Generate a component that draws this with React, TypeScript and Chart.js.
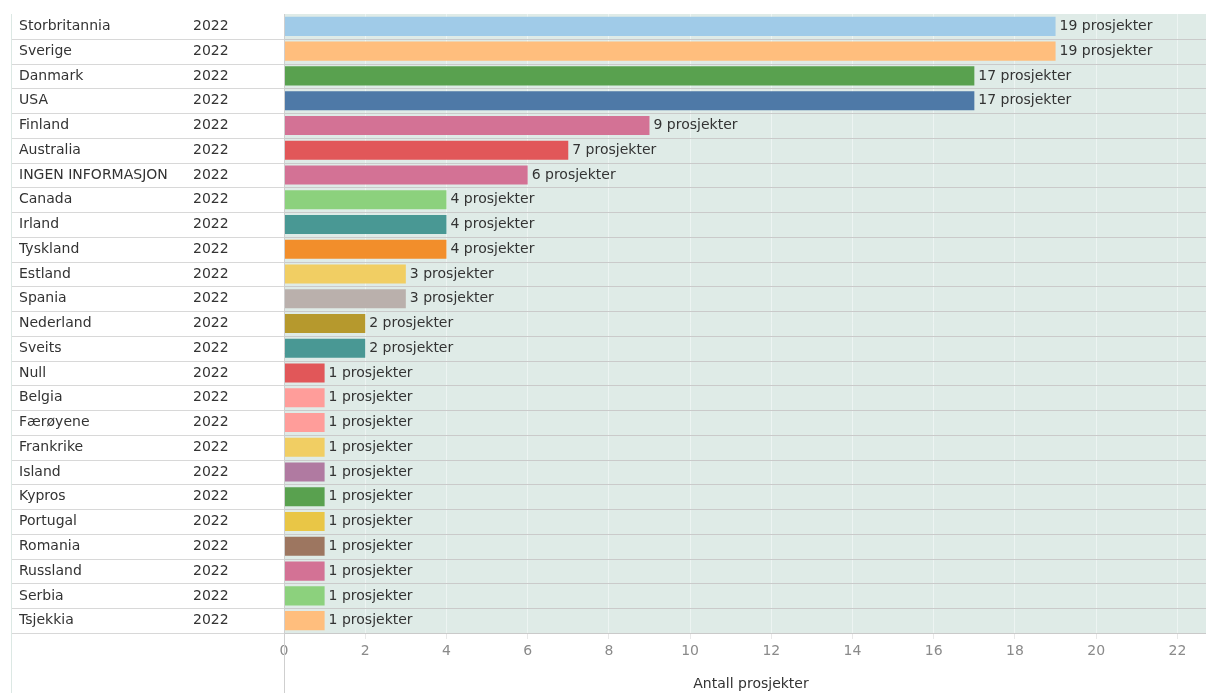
import React, { useEffect, useRef } from "react";
import { Chart, registerables } from "chart.js";

Chart.register(...registerables);

const countries = [
  "Storbritannia", "Sverige", "Danmark", "USA", "Finland", "Australia",
  "INGEN INFORMASJON", "Canada", "Irland", "Tyskland", "Estland", "Spania",
  "Nederland", "Sveits", "Null", "Belgia", "Færøyene", "Frankrike", "Island",
  "Kypros", "Portugal", "Romania", "Russland", "Serbia", "Tsjekkia",
];

const years = [
  "2022", "2022", "2022", "2022", "2022", "2022", "2022", "2022", "2022",
  "2022", "2022", "2022", "2022", "2022", "2022", "2022", "2022", "2022",
  "2022", "2022", "2022", "2022", "2022", "2022", "2022",
];

const projects = [19, 19, 17, 17, 9, 7, 6, 4, 4, 4, 3, 3, 2, 2, 1, 1, 1, 1, 1, 1, 1, 1, 1, 1, 1];

const barColors = [
  "#A0CBE8", "#FFBE7D", "#59A14F", "#4E79A7", "#D37295", "#E15759",
  "#D37295", "#8CD17D", "#499894", "#F28E2B", "#F1CE63", "#BAB0AC",
  "#B6992D", "#499894", "#E15759", "#FF9D9A", "#FF9D9A", "#F1CE63",
  "#B07AA1", "#59A14F", "#E9C646", "#9D7660", "#D37295", "#8CD17D",
  "#FFBE7D",
];

const xTickValues = [0, 2, 4, 6, 8, 10, 12, 14, 16, 18, 20, 22];
const axisTitle = "Antall prosjekter";
const labelSuffix = " prosjekter";

const FONT = "'DejaVu Sans', sans-serif";
const FS = 14;

export default function App() {
  const ref = useRef<HTMLCanvasElement | null>(null);

  useEffect(() => {
    const canvas = ref.current;
    if (!canvas) return;

    const tablePlugin = {
      id: "tablePlugin",
      beforeDraw(chart: any) {
        const { ctx, chartArea } = chart;
        ctx.save();
        ctx.fillStyle = "#DFEBE7";
        ctx.fillRect(chartArea.left, chartArea.top, chartArea.right - chartArea.left, chartArea.bottom - chartArea.top);
        ctx.restore();
      },
      afterDatasetsDraw(chart: any) {
        const { ctx, chartArea } = chart;
        const yScale = chart.scales.y;
        ctx.save();
        for (let i = 0; i < countries.length; i++) {
          let yb: number;
          if (i === countries.length - 1) yb = chartArea.bottom;
          else yb = (yScale.getPixelForValue(i) + yScale.getPixelForValue(i + 1)) / 2;
          yb = Math.round(yb) + 0.5;
          ctx.lineWidth = 1;
          ctx.strokeStyle = "#D8D8D8";
          ctx.beginPath();
          ctx.moveTo(11, yb);
          ctx.lineTo(chartArea.left, yb);
          ctx.stroke();
          ctx.strokeStyle = "#CACACA";
          ctx.beginPath();
          ctx.moveTo(chartArea.left, yb);
          ctx.lineTo(chartArea.right, yb);
          ctx.stroke();
        }
        ctx.strokeStyle = "#DCE8E4";
        ctx.beginPath();
        ctx.moveTo(11.5, chartArea.top);
        ctx.lineTo(11.5, chart.height);
        ctx.stroke();
        ctx.strokeStyle = "#CFCFCF";
        ctx.beginPath();
        ctx.moveTo(Math.round(chartArea.left) + 0.5, chartArea.top);
        ctx.lineTo(Math.round(chartArea.left) + 0.5, chart.height);
        ctx.stroke();

        ctx.font = FS + "px " + FONT;
        ctx.fillStyle = "#333333";
        ctx.textAlign = "left";
        ctx.textBaseline = "middle";
        years.forEach((yr, i) => {
          ctx.fillText(yr, 193, yScale.getPixelForValue(i));
        });

        const meta = chart.getDatasetMeta(0);
        meta.data.forEach((bar: any, i: number) => {
          ctx.fillText(projects[i] + labelSuffix, bar.x + 4, bar.y);
        });
        ctx.restore();
      },
    };

    const chart = new Chart(canvas, {
      type: "bar",
      data: {
        labels: countries,
        datasets: [
          {
            data: projects,
            backgroundColor: barColors,
            borderWidth: 0,
            barPercentage: 0.77,
            categoryPercentage: 1,
          },
        ],
      },
      options: {
        indexAxis: "y",
        animation: false,
        responsive: false,
        devicePixelRatio: 1,
        layout: { padding: { left: 19, top: 14, right: 0, bottom: 0 } },
        plugins: {
          legend: { display: false },
          tooltip: { enabled: false },
        },
        scales: {
          x: {
            type: "linear",
            position: "bottom",
            min: 0,
            max: 23,
            afterFit(scale: any) {
              scale.height = 60;
            },
            afterBuildTicks(scale: any) {
              scale.ticks = xTickValues.map((v) => ({ value: v }));
            },
            ticks: {
              stepSize: 2,
              includeBounds: false,
              color: "#8A8A8A",
              font: { family: FONT, size: FS },
              padding: 4,
              maxRotation: 0,
            },
            grid: {
              color: "rgba(255,255,255,0.45)",
              tickColor: "#E8E8E8",
              tickLength: 6,
              lineWidth: 1,
            },
            border: { display: false },
            title: {
              display: true,
              text: axisTitle,
              color: "#333333",
              font: { family: FONT, size: FS },
              padding: { top: 0, bottom: 0 },
            },
          },
          y: {
            type: "category",
            position: "left",
            afterFit(scale: any) {
              scale.width = 265;
            },
            ticks: {
              crossAlign: "far",
              color: "#333333",
              font: { family: FONT, size: FS },
              padding: 0,
              autoSkip: false,
            },
            grid: { display: false },
            border: { display: false },
          },
        },
      },
      plugins: [tablePlugin],
    } as any);

    return () => chart.destroy();
  }, []);

  return (
    <div style={{ position: "fixed", left: 0, top: 0, width: 1206, height: 693, overflow: "hidden", background: "#fff" }}>
      <canvas ref={ref} width={1218} height={693} style={{ display: "block", width: 1218, height: 693 }} />
    </div>
  );
}
